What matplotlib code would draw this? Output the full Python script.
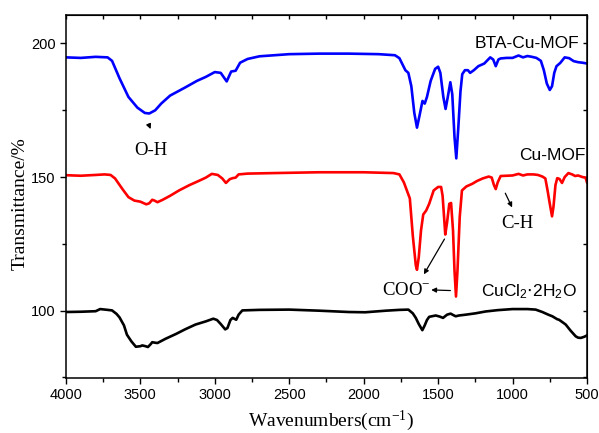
import matplotlib
matplotlib.use('Agg')
import matplotlib.pyplot as plt
from matplotlib.ticker import MultipleLocator

# FTIR spectra, values
bta_wn = [4000, 3900, 3800, 3720, 3690, 3640, 3580, 3520, 3470, 3440, 3400, 3360, 3300, 3200,
          3120, 3060, 3000, 2960, 2920, 2890, 2860, 2830, 2780, 2700, 2500, 2300, 2100, 1900,
          1790, 1760, 1720, 1700, 1680, 1660, 1642, 1625, 1605, 1590, 1575, 1550, 1520, 1500,
          1485, 1465, 1450, 1435, 1418, 1405, 1390, 1378, 1365, 1350, 1338, 1320, 1300, 1285,
          1260, 1230, 1190, 1150, 1130, 1113, 1095, 1080, 1040, 1000, 960, 930, 900, 870, 840,
          810, 790, 770, 750, 735, 720, 705, 680, 650, 620, 590, 560, 530, 500]
bta_t = [194.8, 194.6, 195.0, 194.8, 193.5, 187, 180, 176, 174, 173.8, 175, 177.5, 180.5, 183.5,
         186, 187.5, 189.3, 189, 185.8, 189.5, 189.8, 192.8, 194.2, 195.2, 196, 196.2, 196.2, 196,
         195.6, 194.5, 190, 189, 184, 174, 168.5, 173, 178.5, 177.5, 180, 186, 190.5, 191.3,
         189, 180, 175.5, 180, 185.5, 181, 165, 157, 168, 182, 188.5, 190, 190, 189,
         190, 191.5, 192.5, 194.8, 194, 191.5, 194, 194.4, 194.6, 194.6, 195.5, 194.8, 195.3, 195, 194.6,
         193.5, 190, 185, 182.6, 184, 189, 191.5, 192.7, 194.8, 194.5, 193.4, 193, 192.8, 192.5]

cumof_wn = [4000, 3900, 3800, 3740, 3700, 3670, 3620, 3580, 3540, 3500, 3460, 3440, 3420, 3405,
            3385, 3350, 3300, 3240, 3170, 3110, 3060, 3020, 2980, 2950, 2925, 2900, 2880, 2860,
            2840, 2780, 2600, 2300, 2000, 1800, 1760, 1730, 1710, 1690, 1670, 1650, 1642, 1630,
            1615, 1600, 1580, 1560, 1530, 1500, 1480, 1470, 1460, 1452, 1440, 1425, 1413, 1400,
            1390, 1380, 1370, 1355, 1340, 1310, 1270, 1240, 1200, 1160, 1140, 1125, 1113, 1100,
            1080, 1040, 1000, 960, 930, 900, 860, 830, 800, 780, 765, 750, 735, 725, 712, 700,
            685, 668, 650, 625, 600, 580, 560, 530, 510, 500]
cumof_t = [150.7, 150.5, 150.8, 151, 150.8, 149.5, 145.5, 142.5, 141.2, 140.8, 139.8, 140.2, 141.5, 141.2,
           140.6, 141.5, 143, 145, 147, 148.5, 149.8, 151.2, 150.8, 149.5, 147.8, 149.2, 149.6, 149.8,
           151, 151.3, 151.5, 151.8, 151.8, 151.5, 151, 148, 145, 142, 128, 117, 115.3, 120,
           130, 136, 137.5, 140, 145, 146.3, 146.3, 143, 135, 128.5, 133, 140, 140.3, 130,
           115, 105.3, 115, 135, 145, 146.5, 147.5, 148.5, 149.5, 150.2, 149.8, 147, 145.5, 148,
           150.4, 150.5, 150.6, 151.2, 150.6, 151, 151, 150.8, 150.2, 149.5, 145, 140, 135.3, 139, 147, 149.6,
           149.3, 147.8, 150, 151.5, 151, 150.4, 150.6, 150, 149.8, 148]

cucl_wn = [4000, 3900, 3800, 3770, 3720, 3690, 3660, 3640, 3610, 3590, 3560, 3530, 3500, 3487,
           3465, 3449, 3430, 3420, 3400, 3385, 3330, 3260, 3200, 3130, 3060, 3010, 2985, 2960,
           2930, 2915, 2895, 2880, 2856, 2840, 2815, 2700, 2500, 2300, 2100, 1990, 1850, 1760,
           1700, 1670, 1650, 1630, 1606, 1590, 1575, 1560, 1516, 1490, 1467, 1440, 1416, 1400,
           1382, 1360, 1315, 1250, 1181, 1100, 1000, 900, 845, 800, 760, 733, 700, 688, 660,
           643, 610, 576, 560, 542, 520, 505, 500]
cucl_t = [99.5, 99.6, 99.8, 100.6, 100.3, 100.1, 98.8, 97.5, 94.5, 91, 88.5, 86.5, 86.7, 87,
          86.7, 86.4, 87.5, 88.2, 88, 87.9, 89.5, 91.3, 93, 94.8, 96, 97, 96.5, 95,
          93, 93.5, 96.5, 97.3, 96.6, 98.5, 100.1, 100.3, 100.4, 100, 99.5, 99.4, 100, 100.3,
          100.4, 99, 97.3, 95, 92.7, 94.5, 96.5, 97.7, 98.2, 97.8, 97.3, 98.5, 98.9, 98.4,
          97.9, 98.2, 98.5, 99, 99.7, 100.2, 100.6, 100.6, 100.4, 99.5, 98.5, 97.9, 96.8, 96.6, 95.5,
          94.8, 92.5, 90.4, 89.9, 89.8, 90.2, 90.6, 90.8]

SANS = 'Liberation Sans'
SERIF = 'Liberation Serif'

fig = plt.figure(figsize=(5.99, 4.33), dpi=100)
ax = fig.add_axes([0.110, 0.127, 0.870, 0.838])

ax.plot(bta_wn, bta_t, color='#0000ff', lw=1.9)
ax.plot(cumof_wn, cumof_t, color='#ff0000', lw=1.9)
ax.plot(cucl_wn, cucl_t, color='black', lw=1.9)

ax.set_xlim(4000, 500)
ax.set_ylim(74.8, 210.6)
ax.xaxis.set_major_locator(MultipleLocator(500))
ax.xaxis.set_minor_locator(MultipleLocator(250))
ax.yaxis.set_major_locator(MultipleLocator(50))
ax.yaxis.set_minor_locator(MultipleLocator(25))

for s in ax.spines.values():
    s.set_linewidth(1.1)

ax.tick_params(which='both', direction='out', top=False, right=False, width=1.0, labelsize=10.5)
ax.tick_params(which='major', length=4)
ax.tick_params(which='minor', length=3)
for lab in ax.get_xticklabels() + ax.get_yticklabels():
    lab.set_fontfamily(SANS)

# inward ticks on top and right, no labels
top = ax.secondary_xaxis('top')
top.xaxis.set_major_locator(MultipleLocator(250))
top.tick_params(direction='in', length=3, width=1.0, labeltop=False)
right = ax.secondary_yaxis('right')
right.yaxis.set_major_locator(MultipleLocator(25))
right.tick_params(direction='in', length=3, width=1.0, labelright=False)

fig.text(0.552, 0.001, r'Wavenumbers(cm$\mathregular{^{-1}}$)', family=SERIF, fontsize=14,
         ha='center', va='bottom')
fig.text(0.033, 0.53, 'Transmittance/%', family=SERIF, fontsize=14, rotation=90,
         ha='center', va='center')

# curve labels
ax.text(903, 200.1, 'BTA-Cu-MOF', family=SANS, fontsize=12.5, ha='center', va='center')
ax.text(735, 158.2, 'Cu-MOF', family=SANS, fontsize=12.5, ha='center', va='center')
ax.text(890, 107, r'CuCl$\mathregular{_2}$$\cdot$2H$\mathregular{_2}$O', family=SANS, fontsize=12.5,
        ha='center', va='center')

# band assignments
arrow = dict(arrowstyle='-|>', color='black', lw=0.9, mutation_scale=7)
ax.annotate('', xy=(3424, 167), xytext=(3451, 170.7), arrowprops=arrow)
ax.text(3426, 160.1, 'O-H', family=SERIF, fontsize=13.5, ha='center', va='center')

ax.annotate('', xy=(995, 137.7), xytext=(1057, 144.9), arrowprops=arrow)
ax.text(970, 132.8, 'C-H', family=SERIF, fontsize=13.5, ha='center', va='center')

ax.annotate('', xy=(1605, 112.7), xytext=(1448, 127.7), arrowprops=arrow)
ax.annotate('', xy=(1565, 107.8), xytext=(1399, 107.5), arrowprops=arrow)
ax.text(1715, 107.4, r'COO$\mathregular{^{-}}$', family=SERIF, fontsize=13.5, ha='center', va='center')

fig.savefig('out.png', dpi=100)
